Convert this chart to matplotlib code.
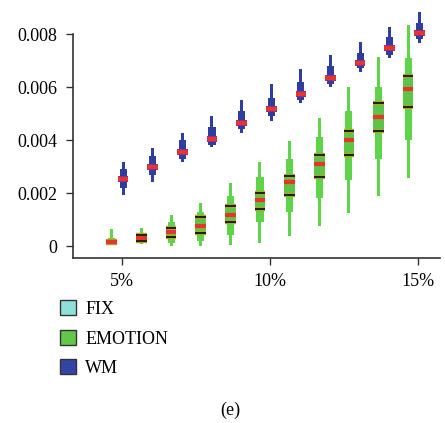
import matplotlib.pyplot as plt
from matplotlib.patches import Patch

plt.rcParams['font.family'] = ['Liberation Serif', 'DejaVu Serif']

pct = [5, 6, 7, 8, 9, 10, 11, 12, 13, 14, 15]

# EMOTION letter-value summaries
emo_lo = [0.00004, 0.00008, 0.0, 0.0, 0.00004, 0.00011, 0.00038, 0.00075, 0.00125, 0.00189, 0.00257]
emo_p05 = [0.00006, 0.00012, 0.0001, 0.0002, 0.0004, 0.0009, 0.0013, 0.0018, 0.0025, 0.0033, 0.0040]
emo_q1 = [0.0001, 0.0002, 0.00035, 0.0005, 0.0009, 0.0014, 0.00192, 0.0026, 0.00343, 0.00434, 0.00525]
emo_med = [0.00015, 0.0003, 0.00053, 0.00075, 0.00117, 0.00174, 0.00242, 0.0031, 0.0040, 0.00487, 0.00592]
emo_q3 = [0.0002, 0.0004, 0.0007, 0.0011, 0.0015, 0.0020, 0.00264, 0.00343, 0.00434, 0.0054, 0.0064]
emo_p95 = [0.0003, 0.0005, 0.0009, 0.0013, 0.0019, 0.0026, 0.0033, 0.0041, 0.0051, 0.0060, 0.0071]
emo_hi = [0.00064, 0.00068, 0.00117, 0.00162, 0.00238, 0.00317, 0.00396, 0.00483, 0.0060, 0.00713, 0.00834]

# WM letter-value summaries
wm_lo = [0.00192, 0.00242, 0.00317, 0.00374, 0.00426, 0.00472, 0.0054, 0.0060, 0.00657, 0.0071, 0.00766]
wm_p05 = [0.0022, 0.0027, 0.0033, 0.0038, 0.0044, 0.0049, 0.0055, 0.0061, 0.0067, 0.0072, 0.0078]
wm_q1 = [0.0024, 0.00286, 0.00343, 0.00392, 0.00452, 0.00505, 0.00562, 0.00622, 0.00678, 0.00735, 0.00792]
wm_med = [0.00253, 0.00298, 0.00355, 0.00404, 0.00464, 0.00517, 0.00574, 0.00634, 0.0069, 0.00747, 0.00804]
wm_q3 = [0.00266, 0.0031, 0.00367, 0.00416, 0.00476, 0.00529, 0.00586, 0.00646, 0.00702, 0.00759, 0.00816]
wm_p95 = [0.0029, 0.0034, 0.0040, 0.0045, 0.0051, 0.0056, 0.0062, 0.0068, 0.0073, 0.0079, 0.0084]
wm_hi = [0.00317, 0.0037, 0.00426, 0.0049, 0.0055, 0.0061, 0.00668, 0.0072, 0.0077, 0.00826, 0.00883]

legend_labels = ['FIX', 'EMOTION', 'WM']
legend_colors = ['#8ee0d8', '#62c84a', '#3545a5']

fig = plt.figure(figsize=(4.45, 4.23), dpi=100)
ax = fig.add_axes([0.164, 0.390, 0.825, 0.586])


def boxen(x, lo, p05, q1, med, q3, p95, hi, col, box_col, qline, medcol):
    ax.bar(x, [h - l for h, l in zip(hi, lo)], bottom=lo, width=0.1, color=col, zorder=2)
    ax.bar(x, [h - l for h, l in zip(p95, p05)], bottom=p05, width=0.24, color=col, zorder=2)
    ax.bar(x, [h - l for h, l in zip(q3, q1)], bottom=q1, width=0.36, color=box_col, zorder=3)
    left = [v - 0.18 for v in x]
    right = [v + 0.18 for v in x]
    if qline is not None:
        for q in (q1, q3):
            ax.hlines(q, left, right, color='#a8a830', lw=3.2, zorder=4)
            ax.hlines(q, left, right, color=qline, lw=1.4, zorder=4)
    ax.hlines(med, left, right, color=medcol, lw=3, zorder=5)


emo_x = [p - 0.34 for p in pct]
wm_x = [p + 0.04 for p in pct]

boxen(emo_x, emo_lo, emo_p05, emo_q1, emo_med, emo_q3, emo_p95, emo_hi,
      '#5fd34a', '#5cc446', '#1e1e06', '#e8352a')
boxen(wm_x, wm_lo, wm_p05, wm_q1, wm_med, wm_q3, wm_p95, wm_hi,
      '#2e3da0', '#8a2c9e', None, '#e8352a')

ax.set_xlim(3.35, 15.74)
ax.set_ylim(-0.00045, 0.0089)
ax.set_xticks([5, 10, 15])
ax.set_xticklabels(['5%', '10%', '15%'])
ax.set_yticks([0, 0.002, 0.004, 0.006, 0.008])
ax.set_yticklabels(['0', '0.002', '0.004', '0.006', '0.008'])
ax.tick_params(labelsize=13, length=5, width=1, color='#333333', pad=6)

for s in ['top', 'right']:
    ax.spines[s].set_visible(False)
for s in ['left', 'bottom']:
    ax.spines[s].set_color('#333333')
    ax.spines[s].set_linewidth(1.2)
ax.spines['left'].set_bounds(-0.00045, 0.008)

handles = [Patch(facecolor=c, edgecolor='#333333', lw=1) for c in legend_colors]
fig.legend(handles, legend_labels, loc='upper left', bbox_to_anchor=(0.135, 0.29),
           frameon=False, fontsize=13, handlelength=0.9, handleheight=0.9,
           handletextpad=0.5, labelspacing=0.65, borderpad=0, borderaxespad=0)

fig.text(0.517, 0.03, '(e)', ha='center', va='center', fontsize=13)

fig.savefig('out.png', dpi=100)
